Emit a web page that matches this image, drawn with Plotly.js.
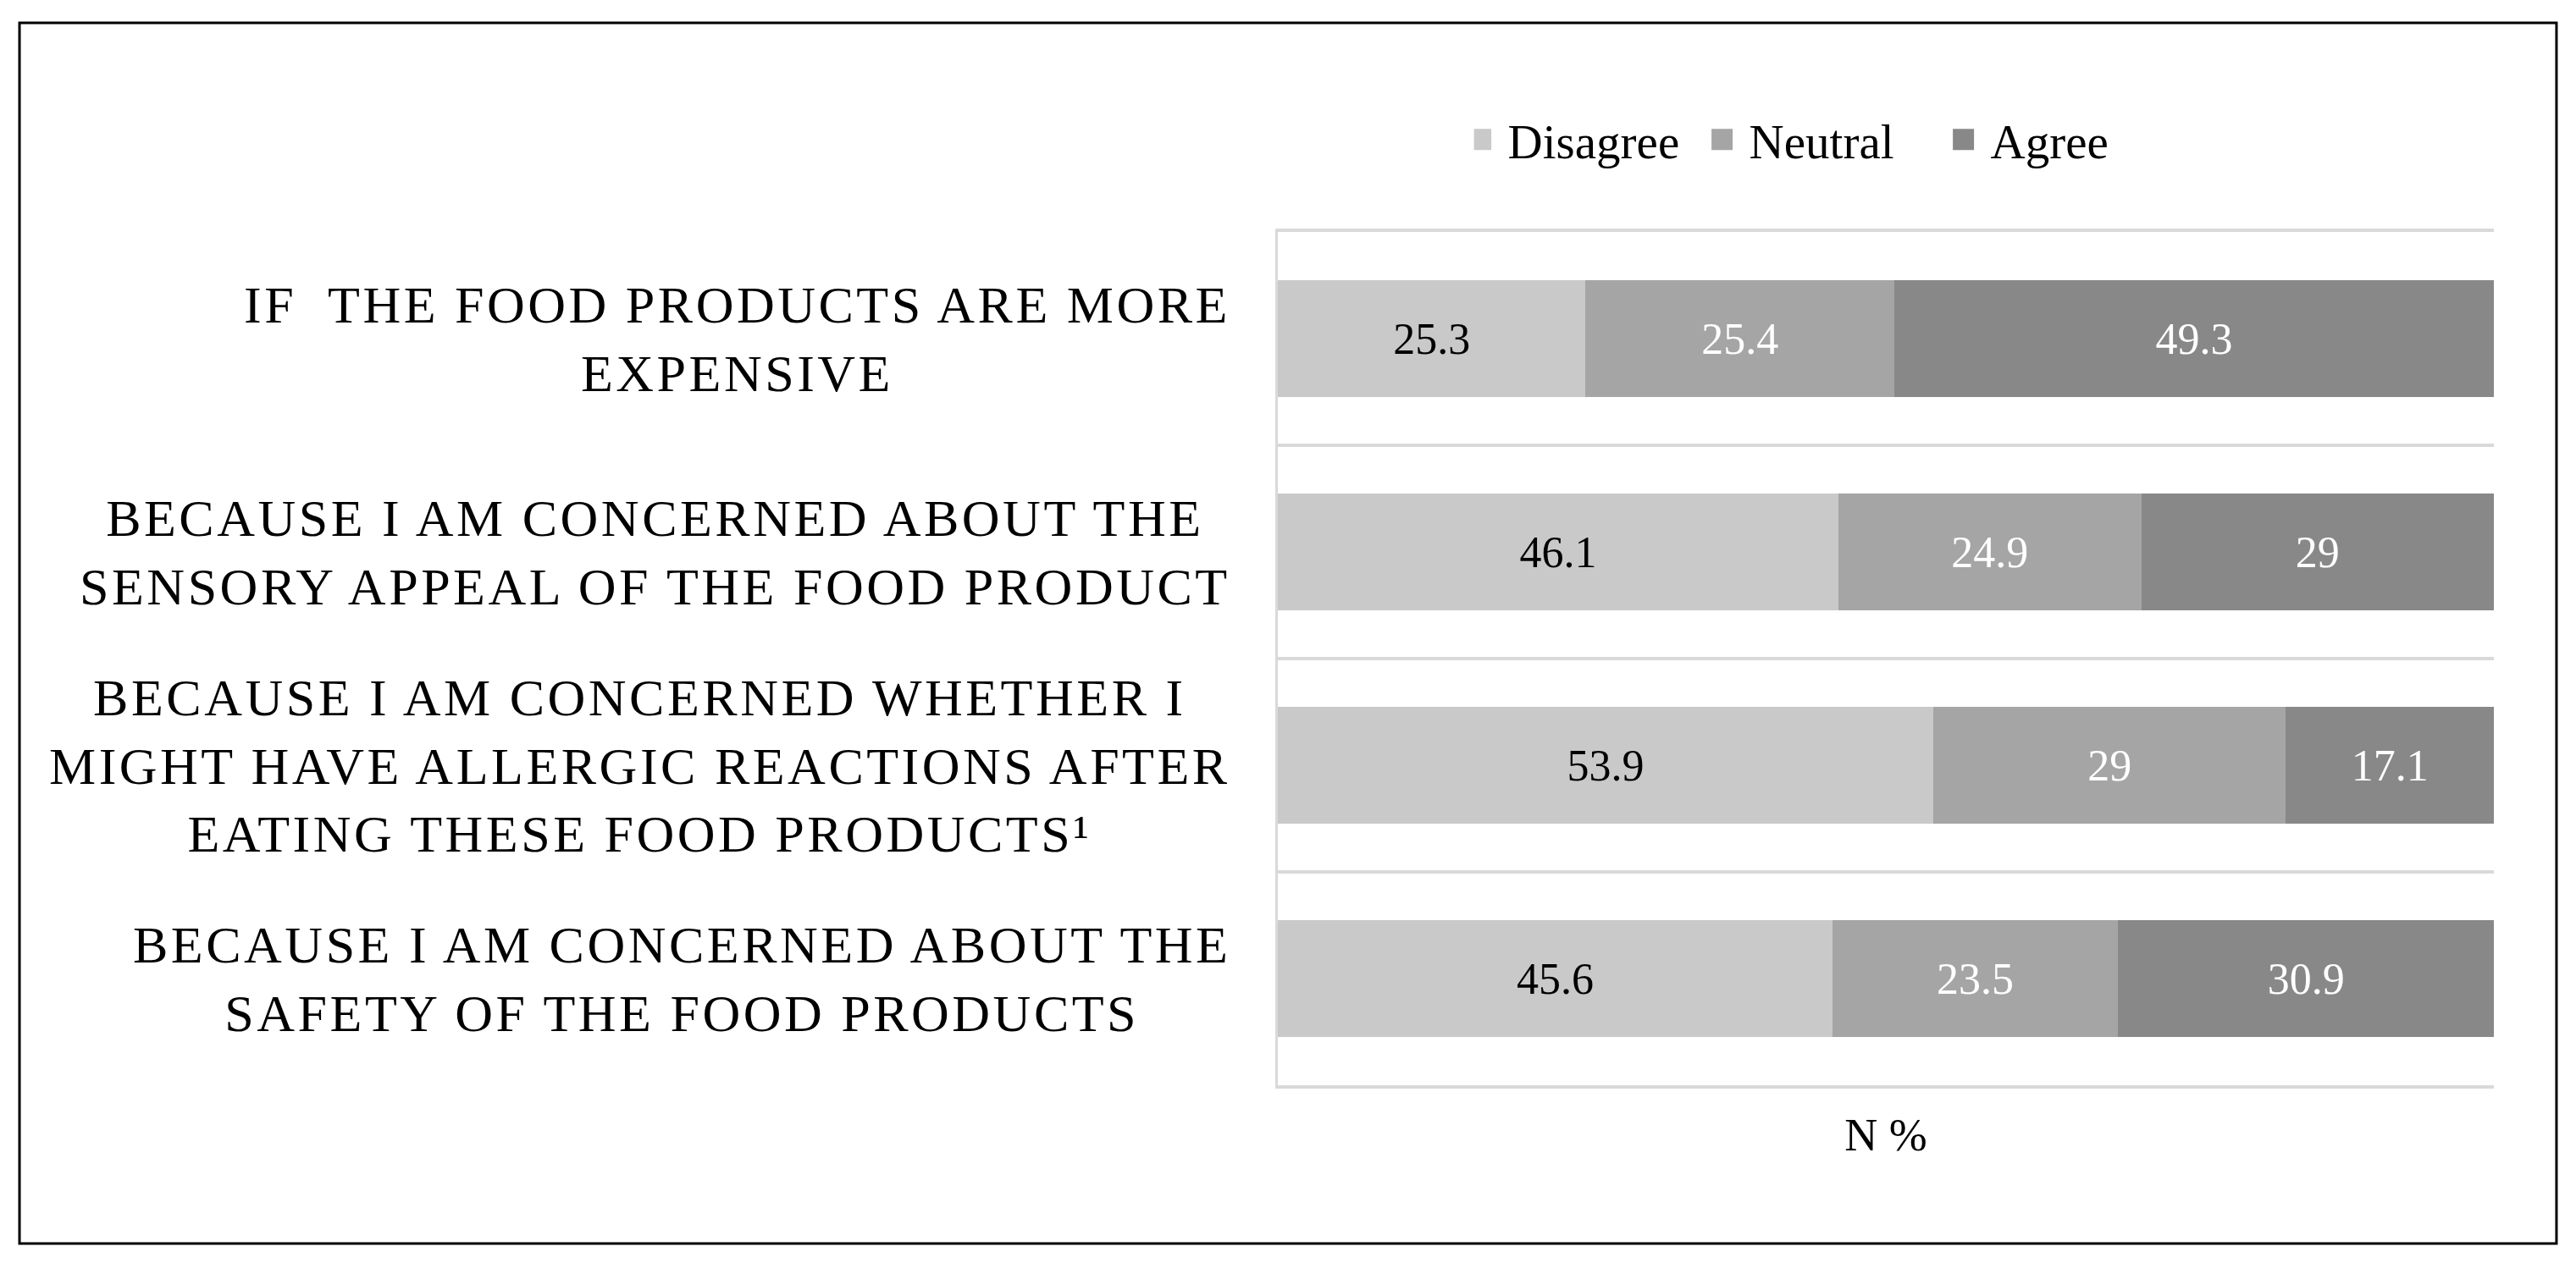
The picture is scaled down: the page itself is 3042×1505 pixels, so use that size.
<!DOCTYPE html>
<html>
<head>
<meta charset="utf-8">
<script src="https://cdn.plot.ly/plotly-3.0.1.min.js"></script>
<style>
html,body{margin:0;padding:0;background:#fff;}
#chart{width:3042px;height:1505px;}
.annotation-text{letter-spacing:3.5px;}
</style>
</head>
<body>
<div id="chart"></div>
<script>
// ---- data ----
const categories = [
  "IF\u00a0 THE FOOD PRODUCTS ARE MORE<br>EXPENSIVE",
  "BECAUSE I AM CONCERNED ABOUT THE<br>SENSORY APPEAL OF THE FOOD PRODUCT",
  "BECAUSE I AM CONCERNED WHETHER I<br>MIGHT HAVE ALLERGIC REACTIONS AFTER<br>EATING THESE FOOD PRODUCTS\u00b9",
  "BECAUSE I AM CONCERNED ABOUT THE<br>SAFETY OF THE FOOD PRODUCTS"
];
const seriesNames = ["Disagree", "Neutral", "Agree"];
const disagree = [25.3, 46.1, 53.9, 45.6];
const neutral  = [25.4, 24.9, 29, 23.5];
const agree    = [49.3, 29, 17.1, 30.9];
const xAxisTitle = "N %";

// ---- styles ----
const FONT = "Liberation Serif, Times New Roman, serif";
const colors = ["#C9C9C9", "#A5A5A5", "#888888"];
const labelColors = ["#000000", "#FFFFFF", "#FFFFFF"];
const seriesValues = [disagree, neutral, agree];

const traces = seriesNames.map((name, i) => ({
  type: "bar",
  orientation: "h",
  name: name,
  y: categories,
  x: seriesValues[i],
  text: seriesValues[i].map(v => String(v)),
  texttemplate: "%{text}",
  textposition: "inside",
  insidetextanchor: "middle",
  constraintext: "none",
  textangle: 0,
  textfont: {family: FONT, size: 52, color: labelColors[i]},
  marker: {color: colors[i], line: {width: 0}},
  hoverinfo: "skip"
}));

const annotations = categories.map(c => ({
  xref: "paper", yref: "y",
  x: -0.0376, y: c,
  xanchor: "right", yanchor: "middle",
  align: "center",
  text: c,
  showarrow: false,
  font: {family: FONT, size: 62, color: "#000"}
}));

const n = categories.length;
const layout = {
  width: 3042, height: 1505,
  margin: {l: 1509, r: 97, t: 274, b: 223, pad: 0},
  paper_bgcolor: "#fff", plot_bgcolor: "#fff",
  barmode: "stack",
  bargap: 0.45,
  showlegend: true,
  legend: {
    orientation: "h", traceorder: "normal",
    x: 0.459, xanchor: "center", y: 1.108, yanchor: "middle",
    font: {family: FONT, size: 57, color: "#000"},
    itemwidth: 30,
    entrywidth: 240, entrywidthmode: "pixels",
    itemclick: false, itemdoubleclick: false
  },
  xaxis: {
    range: [0, 100], showgrid: false, zeroline: false,
    showline: true, mirror: true, linecolor: "#D9D9D9", linewidth: 4,
    showticklabels: false, ticks: "", fixedrange: true,
    title: {text: xAxisTitle, font: {family: FONT, size: 54, color: "#000"}, standoff: 37}
  },
  yaxis: {
    type: "category", categoryorder: "array", categoryarray: categories,
    range: [n - 0.5, -0.5], tickson: "boundaries",
    showgrid: true, gridcolor: "#D9D9D9", gridwidth: 4,
    showline: true, linecolor: "#D9D9D9", linewidth: 3,
    showticklabels: false, ticks: "", zeroline: false, fixedrange: true
  },
  annotations: annotations,
  shapes: [{
    type: "rect", xref: "paper", yref: "paper",
    x0: -1.0348, x1: 1.0515, y0: -0.1855, y1: 1.245,
    line: {color: "#000", width: 3}, fillcolor: "rgba(0,0,0,0)", layer: "below"
  }]
};

Plotly.newPlot("chart", traces, layout, {displayModeBar: false, staticPlot: true}).then(gd => {
  gd.querySelectorAll(".legendpoints path").forEach(p => p.setAttribute("d", "M0.5,12.5H-24.5V-12.5H0.5Z"));
});
</script>
</body>
</html>
